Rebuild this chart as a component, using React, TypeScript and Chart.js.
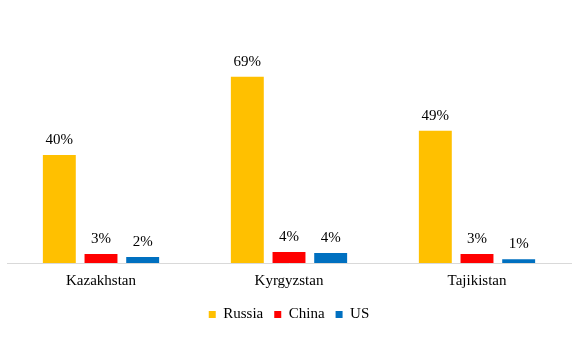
import React, { useEffect, useRef } from "react";
import { Chart, registerables } from "chart.js";

Chart.register(...registerables);

const categories = ["Kazakhstan", "Kyrgyzstan", "Tajikistan"];
const russia = [40, 69, 49];
const china = [3.3, 4.1, 3.3];
const us = [2.2, 3.7, 1.4];
const seriesNames = ["Russia", "China", "US"];
const seriesColors = ["#FFC000", "#FF0000", "#0070C0"];

const FONT = "'Liberation Serif', 'Times New Roman', serif";

const labelPlugin = {
  id: "barLabels",
  afterDatasetsDraw(chart: any) {
    const ctx = chart.ctx;
    ctx.save();
    ctx.font = `15px ${FONT}`;
    ctx.fillStyle = "#000";
    ctx.textAlign = "center";
    ctx.textBaseline = "alphabetic";
    chart.data.datasets.forEach((ds: any, i: number) => {
      const meta = chart.getDatasetMeta(i);
      meta.data.forEach((el: any, j: number) => {
        const v = ds.data[j];
        ctx.fillText(`${Math.round(v)}%`, el.x, el.y - 11);
      });
    });
    ctx.restore();
  },
};

export default function App() {
  const ref = useRef<HTMLCanvasElement | null>(null);
  useEffect(() => {
    document.body.style.margin = "0";
    const values = [russia, china, us];
    const chart = new Chart(ref.current!, {
      type: "bar",
      data: {
        labels: categories,
        datasets: seriesNames.map((name, i) => ({
          label: name,
          data: values[i],
          backgroundColor: seriesColors[i],
          borderWidth: 0,
          barPercentage: 0.79,
          categoryPercentage: 0.665,
        })),
      },
      options: {
        responsive: false,
        animation: false,
        layout: { padding: { left: 7, right: 11, top: 47, bottom: 9 } },
        plugins: {
          legend: {
            position: "bottom",
            labels: {
              boxWidth: 7,
              boxHeight: 7,
              padding: 11,
              color: "#000",
              font: { family: FONT, size: 15 },
            },
          },
          tooltip: { enabled: false },
        },
        scales: {
          x: {
            grid: { display: false },
            border: { display: true, color: "#d9d9d9", width: 1 },
            ticks: { color: "#000", font: { family: FONT, size: 15 }, padding: 1 },
            afterFit: (scale: any) => {
              scale.height += 5;
            },
          },
          y: {
            display: false,
            min: 0,
            max: 80,
          },
        },
      },
      plugins: [labelPlugin],
    });
    return () => chart.destroy();
  }, []);
  return (
    <div style={{ width: 582, height: 341 }}>
      <canvas ref={ref} width={582} height={341} />
    </div>
  );
}
